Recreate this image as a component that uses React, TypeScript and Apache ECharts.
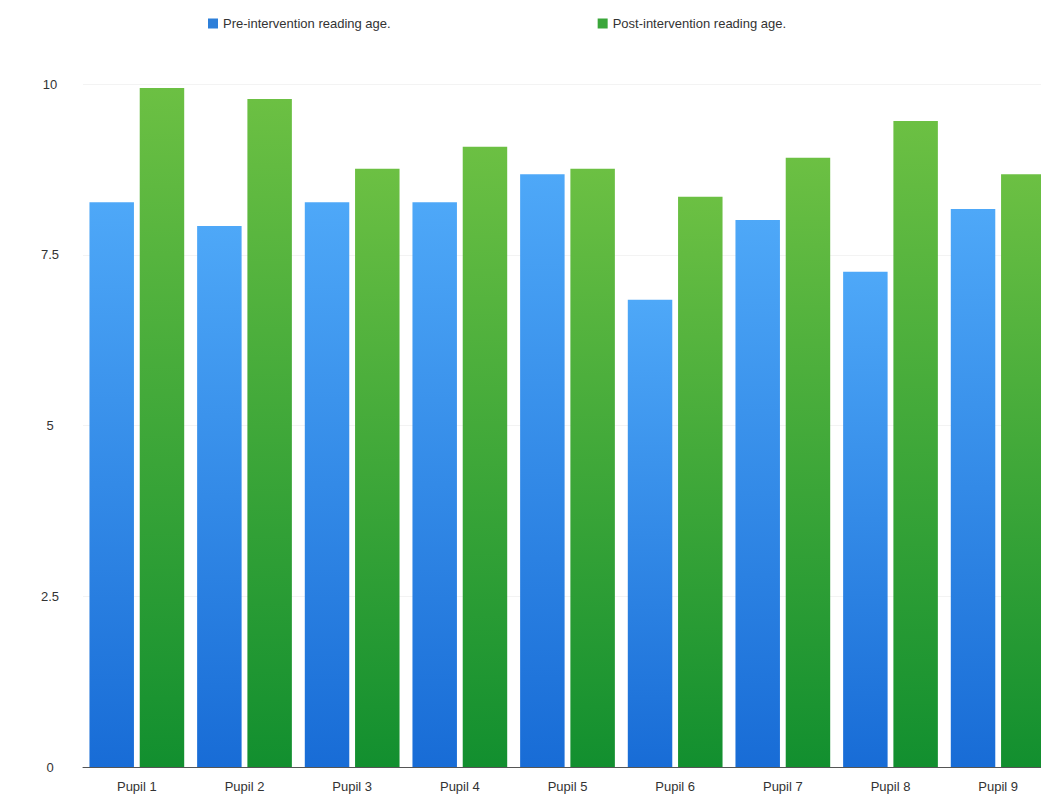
import React, { useEffect, useRef } from "react";
import * as echarts from "echarts";

const categories = ["Pupil 1", "Pupil 2", "Pupil 3", "Pupil 4", "Pupil 5", "Pupil 6", "Pupil 7", "Pupil 8", "Pupil 9"];
const preValues = [8.27, 7.92, 8.27, 8.27, 8.68, 6.84, 8.01, 7.25, 8.17];
const postValues = [9.94, 9.78, 8.76, 9.08, 8.76, 8.35, 8.92, 9.46, 8.68];
const seriesNames = ["Pre-intervention reading age.", "Post-intervention reading age."];
const yTicks = [0, 2.5, 5, 7.5, 10];

export default function App() {
  const ref = useRef<HTMLDivElement>(null);
  useEffect(() => {
    document.body.style.margin = "0";
    const chart = echarts.init(ref.current!, undefined, { renderer: "svg" });
    const blue = new echarts.graphic.LinearGradient(0, 0, 0, 1, [
      { offset: 0, color: "#4ea8f8" },
      { offset: 1, color: "#186cd6" },
    ]);
    const green = new echarts.graphic.LinearGradient(0, 0, 0, 1, [
      { offset: 0, color: "#6cc043" },
      { offset: 1, color: "#128f2f" },
    ]);
    chart.setOption({
      animation: false,
      textStyle: { fontFamily: "Liberation Sans, Arial, sans-serif" },
      legend: {
        top: 12,
        left: 203,
        itemGap: 207,
        itemWidth: 10,
        itemHeight: 10,
        icon: "rect",
        textStyle: { fontSize: 13, color: "#333" },
        data: [
          { name: seriesNames[0], itemStyle: { color: "#2d7fd9" } },
          { name: seriesNames[1], itemStyle: { color: "#3aa63a" } },
        ],
      },
      grid: { left: 83, right: 0, top: 84, bottom: 34 },
      xAxis: {
        type: "category",
        data: categories,
        axisTick: { show: false },
        axisLine: { lineStyle: { color: "#555", width: 1 } },
        axisLabel: { fontSize: 13, color: "#333", margin: 13 },
      },
      yAxis: {
        type: "value",
        min: 0,
        max: yTicks[yTicks.length - 1],
        interval: 2.5,
        axisLabel: { fontSize: 13, color: "#333", margin: 33, align: "center", formatter: (v: number) => String(v) },
        splitLine: { lineStyle: { color: "#f3f3f3" } },
        axisLine: { show: false },
        axisTick: { show: false },
      },
      series: [
        {
          name: seriesNames[0],
          type: "bar",
          data: preValues,
          barGap: "13%",
          barCategoryGap: "12%",
          itemStyle: { color: blue },
        },
        {
          name: seriesNames[1],
          type: "bar",
          data: postValues,
          itemStyle: { color: green },
        },
      ],
    });
    return () => chart.dispose();
  }, []);
  return (
    <div style={{ position: "absolute", left: 0, top: 0, width: 1041, height: 801, overflow: "hidden" }}>
      <div ref={ref} style={{ width: 1052, height: 801 }} />
    </div>
  );
}
